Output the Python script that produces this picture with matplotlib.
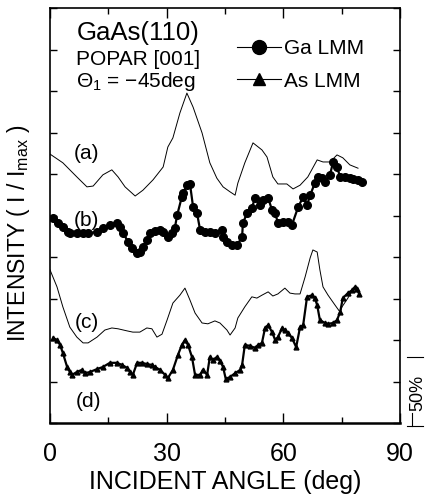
import matplotlib
matplotlib.use("Agg")
import matplotlib.pyplot as plt
from matplotlib.lines import Line2D

plt.rcParams['font.family'] = ['Liberation Sans', 'DejaVu Sans']
plt.rcParams['mathtext.fontset'] = 'custom'
plt.rcParams['mathtext.rm'] = 'Liberation Sans'
plt.rcParams['mathtext.it'] = 'Liberation Sans'

# ---- data (incident angle in deg, intensity in tick units, curves offset) ----
a_x = [0, 3.3, 6.9, 9.5, 11.1, 13.6, 15.9, 17.5, 19.3, 21.9, 23.9, 26.5, 29.1, 30.3, 31.6,
       33.4, 35.2, 36.8, 39.1, 41.1, 42.9, 44.5, 46.3, 47.6, 48.3, 50.1, 52.2, 54.5, 55.8,
       57.3, 58.6, 60.9, 62.5, 64.3, 66.3, 68.7, 70.2, 72.0, 73.8, 75.3, 77.1, 79.2]
a_y = [6.48, 6.27, 5.93, 5.69, 5.71, 5.98, 6.10, 5.93, 5.69, 5.47, 5.61, 5.86, 6.17, 6.65, 6.87,
       7.47, 7.95, 7.61, 6.99, 6.27, 5.90, 5.69, 5.57, 5.49, 5.78, 6.27, 6.75, 6.58, 6.41,
       5.93, 5.76, 5.76, 5.64, 5.73, 5.93, 6.34, 6.29, 6.29, 6.46, 6.39, 6.22, 6.14]

b_x = [0.8, 2.1, 3.3, 4.6, 5.1, 6.9, 8.5, 9.8, 12.1, 13.6, 15.4, 17.2, 18.0, 18.8, 20.1, 21.1,
       22.4, 23.1, 23.9, 24.9, 25.7, 27.0, 28.3, 29.1, 30.3, 31.4, 32.1, 32.7, 33.9, 34.2, 35.2,
       36.0, 36.8, 37.8, 38.6, 39.9, 41.1, 42.4, 44.2, 44.5, 45.5, 46.8, 48.1, 49.4, 49.6, 50.7,
       51.9, 52.7, 54.0, 54.8, 56.1, 57.1, 57.9, 58.6, 59.9, 61.2, 62.2, 63.8, 65.1, 66.1, 66.9,
       68.1, 68.9, 69.9, 70.7, 72.0, 72.8, 73.8, 74.6, 75.9, 77.1, 77.9, 79.2, 80.2]
b_y = [4.94, 4.82, 4.72, 4.60, 4.58, 4.58, 4.58, 4.58, 4.60, 4.70, 4.77, 4.82, 4.72, 4.58, 4.36,
       4.22, 4.10, 4.12, 4.24, 4.41, 4.58, 4.63, 4.65, 4.60, 4.48, 4.58, 4.70, 5.01, 5.45, 5.54,
       5.73, 5.76, 5.20, 5.06, 4.65, 4.60, 4.60, 4.58, 4.65, 4.48, 4.36, 4.29, 4.29, 4.48, 4.82,
       5.06, 5.18, 5.42, 5.25, 5.37, 5.42, 5.13, 5.06, 4.82, 4.84, 4.84, 4.77, 5.20, 5.45, 5.25,
       5.49, 5.78, 5.93, 5.90, 5.81, 5.98, 6.29, 6.17, 5.93, 5.93, 5.90, 5.88, 5.86, 5.81]

c_x = [0, 1.8, 3.3, 5.1, 6.9, 8.5, 9.8, 12.1, 14.1, 15.9, 17.5, 19.8, 21.3, 23.1, 24.9, 26.2,
       27.5, 28.8, 30.1, 31.6, 33.4, 34.7, 36.0, 37.3, 39.1, 40.6, 42.4, 43.7, 45.5, 46.3, 47.6,
       48.3, 50.1, 51.9, 53.2, 54.5, 56.1, 57.3, 58.6, 60.4, 61.7, 63.0, 64.3, 65.6, 66.9, 67.6,
       68.7, 69.4, 70.2, 71.5, 73.3, 74.6, 75.1, 76.6, 77.9, 78.9, 79.2]
c_y = [3.69, 3.28, 2.80, 2.31, 2.07, 1.93, 1.93, 2.07, 2.24, 2.29, 2.27, 2.22, 2.19, 2.19, 2.29,
       2.27, 2.07, 2.14, 2.48, 2.89, 3.08, 3.25, 2.96, 2.65, 2.41, 2.39, 2.46, 2.41, 2.24, 2.12,
       2.29, 2.53, 2.80, 3.04, 3.01, 3.08, 3.16, 3.06, 3.11, 3.25, 3.13, 3.11, 3.11, 3.52, 3.98,
       4.17, 4.12, 3.69, 3.28, 3.08, 2.84, 2.67, 2.80, 3.01, 3.23, 3.28, 3.16]

d_x = [0.8, 1.8, 2.6, 3.3, 4.4, 5.1, 5.7, 6.9, 8.2, 9.0, 10.3, 12.1, 13.6, 15.4, 17.2, 18.5,
       19.8, 20.6, 21.3, 22.4, 23.7, 24.9, 26.2, 27.0, 28.3, 29.6, 30.3, 31.6, 32.9, 33.9, 34.7,
       35.5, 36.5, 37.3, 38.6, 39.3, 40.4, 41.1, 41.9, 42.9, 43.7, 44.5, 45.2, 46.3, 47.6, 48.9,
       49.4, 50.1, 51.4, 52.7, 53.5, 54.5, 55.3, 56.1, 57.1, 57.9, 58.6, 59.7, 60.4, 61.2, 62.2,
       63.3, 64.3, 65.1, 66.1, 67.4, 68.1, 68.7, 69.4, 70.7, 71.5, 72.8, 73.8, 74.6, 75.3, 76.6,
       77.7, 78.4, 78.9, 79.5]
d_y = [2.05, 2.00, 1.88, 1.69, 1.35, 1.23, 1.16, 1.23, 1.28, 1.20, 1.23, 1.30, 1.35, 1.45, 1.45,
       1.40, 1.33, 1.23, 1.16, 1.45, 1.45, 1.42, 1.40, 1.35, 1.28, 1.16, 1.08, 1.28, 1.64, 1.88,
       2.00, 1.88, 1.59, 1.16, 1.16, 1.28, 1.16, 1.59, 1.52, 1.59, 1.50, 1.35, 1.06, 1.11, 1.20,
       1.28, 1.40, 1.88, 1.86, 1.81, 1.88, 1.93, 2.29, 2.36, 2.19, 2.00, 2.07, 2.29, 2.24, 2.17,
       2.05, 1.83, 2.31, 2.36, 3.04, 3.08, 3.01, 2.84, 2.48, 2.41, 2.39, 2.41, 2.48, 2.67, 3.01,
       3.13, 3.20, 3.28, 3.23, 3.11]

curve_labels = ['(a)', '(b)', '(c)', '(d)']
label_x = [9.3, 9.3, 9.4, 9.9]
label_y = [6.5, 4.89, 2.43, 0.53]

x_ticks = [0, 30, 60, 90]
x_minor = [15, 45, 75]
y_ticks = list(range(0, 11))

# ---- figure ----
fig = plt.figure(figsize=(4.27, 4.97), dpi=100)
ax = fig.add_axes([50/427, 74/497, 350/427, 415/497])

ax.plot(a_x, a_y, color='black', lw=0.7)
ax.plot(b_x, b_y, color='black', lw=1.6, marker='o', ms=5.5)
ax.plot(c_x, c_y, color='black', lw=0.7)
ax.plot(d_x, d_y, color='black', lw=1.6, marker='^', ms=3.5)

ax.set_xlim(0, 90)
ax.set_ylim(0, 10)
ax.set_xticks(x_ticks)
ax.set_xticks(x_minor, minor=True)
ax.set_xticklabels([str(v) for v in x_ticks], fontsize=18)
ax.set_yticks(y_ticks)
ax.set_yticklabels([])
ax.tick_params(axis='x', which='major', direction='in', length=7, width=1, pad=14, top=True)
ax.tick_params(axis='x', which='minor', direction='in', length=4, width=1, top=True)
ax.tick_params(axis='y', direction='in', length=5, width=1, right=True)
for s in ax.spines.values():
    s.set_linewidth(1.2)
ax.spines['bottom'].set_linewidth(1.8)

for lab, lx, ly in zip(curve_labels, label_x, label_y):
    ax.text(lx, ly, lab, fontsize=15, ha='center', va='center')

ax.text(6.9, 9.40, 'GaAs(110)', fontsize=18.5, ha='left', va='center')
ax.text(6.7, 8.75, 'POPAR [001]', fontsize=15, ha='left', va='center')
ax.text(6.7, 8.22, r'$\Theta_1$ = −45deg', fontsize=15, ha='left', va='center')

handles = [Line2D([], [], color='black', lw=0.8, marker='o', ms=10),
           Line2D([], [], color='black', lw=0.8, marker='^', ms=9)]
ax.legend(handles, ['Ga LMM', 'As LMM'], loc='upper left', bbox_to_anchor=(0.535, 0.925),
          frameon=False, fontsize=15, handlelength=2.1, handletextpad=0.15,
          labelspacing=0.65, borderpad=0, borderaxespad=0)

fig.text(225/427, 1 - 482/497, 'INCIDENT ANGLE (deg)', fontsize=18, ha='center', va='center')
fig.text(19/427, 1 - 233/497, r'INTENSITY ( I / I$_{\rm max}$ )', fontsize=16.5,
         ha='center', va='center', rotation=90)

# 50% scale bar
ax.plot([1.02, 1.066], [0.159, 0.159], color='black', lw=0.8, transform=ax.transAxes, clip_on=False)
ax.plot([1.02, 1.066], [-0.007, -0.007], color='black', lw=0.8, transform=ax.transAxes, clip_on=False)
ax.plot([1.035, 1.035], [0.024, -0.007], color='black', lw=0.8, transform=ax.transAxes, clip_on=False)
ax.text(1.051, 0.072, '50%', fontsize=13, ha='center', va='center', rotation=90,
        transform=ax.transAxes, clip_on=False)

fig.savefig('out.png', dpi=100)
